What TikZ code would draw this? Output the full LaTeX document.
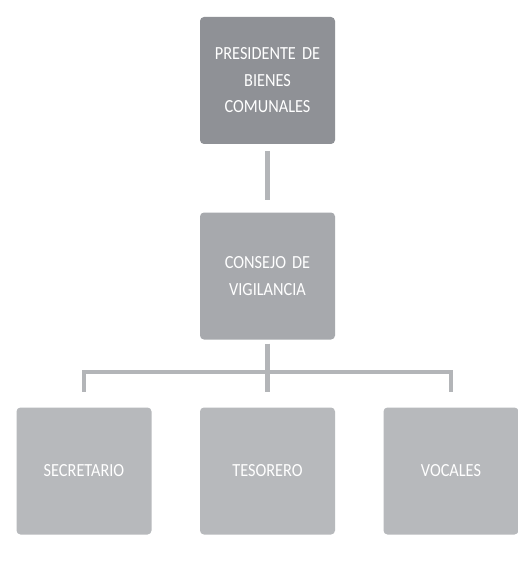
\documentclass[tikz,border=0pt]{standalone}
\usepackage{fontspec}
\setmainfont{Carlito}[FakeStretch=0.88]
\definecolor{boxA}{HTML}{8F9196}
\definecolor{boxB}{HTML}{A7A9AD}
\definecolor{boxC}{HTML}{B7B9BC}
\definecolor{linkc}{HTML}{B3B5B8}
\begin{document}
\begin{tikzpicture}[x=1pt,y=-1pt,
  orgbox/.style={draw=none, rounded corners=4pt, minimum width=135pt, minimum height=127pt,
    inner sep=2pt, text=white, align=center, font=\fontsize{18.5}{26.5}\selectfont, text width=128pt},
  link/.style={draw=linkc, line width=4.5pt}]
\useasboundingbox (0,0) rectangle (518,564);
\fill[white] (0,0) rectangle (518,564);
\node[orgbox, fill=boxA] (pres) at (267.5,80.5) {PRESIDENTE DE\\BIENES\\COMUNALES};
\node[orgbox, fill=boxB] (cons) at (267.5,276) {CONSEJO DE\\VIGILANCIA};
\node[orgbox, fill=boxC] (sec) at (84,471) {SECRETARIO};
\node[orgbox, fill=boxC] (tes) at (267.5,471) {TESORERO};
\node[orgbox, fill=boxC] (voc) at (451,471) {VOCALES};
\coordinate (bar) at (267.5,372);
\coordinate (barL) at (84,372);
\coordinate (barR) at (451,372);
\draw[link] ([yshift=-7pt]pres.south) -- ([yshift=12pt]cons.north);
\draw[link] ([yshift=-4pt]cons.south) -- (bar);
\draw[link, line cap=rect] (barL) -- (barR);
\draw[link] (barL) -- ([yshift=15pt]sec.north);
\draw[link] (bar) -- ([yshift=15pt]tes.north);
\draw[link] (barR) -- ([yshift=15pt]voc.north);
\end{tikzpicture}
\end{document}
